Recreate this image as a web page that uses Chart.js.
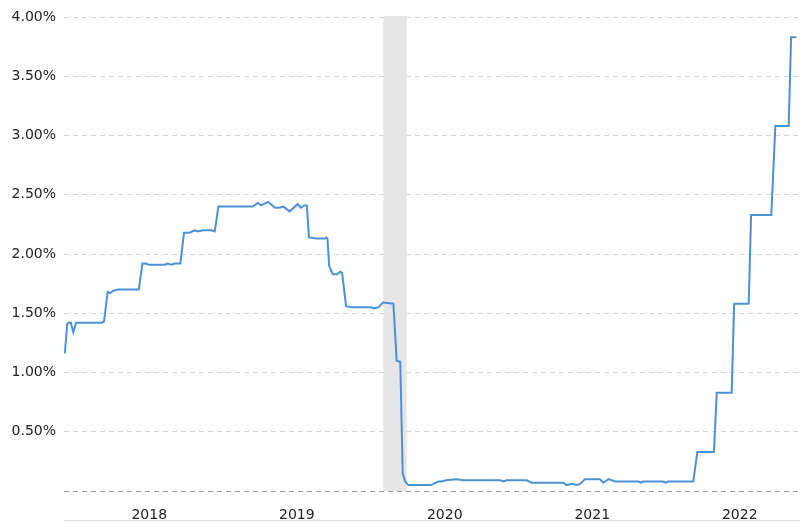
<!DOCTYPE html>
<html>
<head>
<meta charset="utf-8">
<title>Rate chart</title>
<script src="https://cdn.jsdelivr.net/npm/chart.js@4"></script>
<style>
  html, body { margin: 0; padding: 0; background: #ffffff; }
  #wrap { position: relative; width: 800px; height: 529px; }
</style>
</head>
<body>
<div id="wrap"><canvas id="grafico-tasa"></canvas></div>
<script>
// Dates and values
var fechas = [
    '2017-12-05', '2017-12-11', '2017-12-14', '2017-12-20', '2017-12-26', '2018-01-02',
    '2018-03-06', '2018-03-12', '2018-03-21', '2018-03-27', '2018-04-04', '2018-04-16',
    '2018-06-06', '2018-06-15', '2018-06-23', '2018-07-01', '2018-08-09', '2018-08-16',
    '2018-08-26', '2018-09-03', '2018-09-17', '2018-09-26', '2018-10-10', '2018-10-22',
    '2018-10-30', '2018-11-12', '2018-12-03', '2018-12-11', '2018-12-20', '2018-12-29',
    '2019-03-15', '2019-03-28', '2019-04-04', '2019-04-22', '2019-05-09', '2019-05-20',
    '2019-05-30', '2019-06-14', '2019-07-04', '2019-07-12', '2019-07-20', '2019-07-27',
    '2019-08-01', '2019-08-21', '2019-09-10', '2019-09-13', '2019-09-16', '2019-09-20',
    '2019-09-29', '2019-10-10', '2019-10-17', '2019-10-22', '2019-11-01', '2019-11-16',
    '2020-01-03', '2020-01-09', '2020-01-20', '2020-01-31', '2020-02-26', '2020-03-05',
    '2020-03-14', '2020-03-20', '2020-03-26', '2020-04-03', '2020-05-29', '2020-06-16',
    '2020-06-25', '2020-07-05', '2020-08-01', '2020-08-17', '2020-11-16', '2020-11-24',
    '2020-12-02', '2021-01-21', '2021-02-02', '2021-02-14', '2021-04-21', '2021-04-30',
    '2021-05-12', '2021-05-25', '2021-06-02', '2021-06-14', '2021-07-21', '2021-07-29',
    '2021-08-11', '2021-08-27', '2021-10-24', '2021-10-30', '2021-11-05', '2021-12-24',
    '2021-12-30', '2022-01-07', '2022-03-09', '2022-03-19', '2022-04-29', '2022-05-06',
    '2022-06-12', '2022-06-18', '2022-07-24', '2022-07-30', '2022-09-18', '2022-09-28',
    '2022-10-31', '2022-11-06', '2022-11-19'
];
var tasas = [
    1.16, 1.41, 1.42, 1.42, 1.34, 1.42,
    1.42, 1.43, 1.68, 1.67, 1.69, 1.70,
    1.70, 1.92, 1.92, 1.91, 1.91, 1.92,
    1.91, 1.92, 1.92, 2.18, 2.18, 2.20,
    2.19, 2.20, 2.20, 2.19, 2.40, 2.40,
    2.40, 2.43, 2.41, 2.44, 2.39, 2.39,
    2.40, 2.36, 2.42, 2.39, 2.41, 2.41,
    2.14, 2.13, 2.13, 2.14, 2.13, 1.90,
    1.83, 1.83, 1.85, 1.84, 1.56, 1.55,
    1.55, 1.54, 1.55, 1.59, 1.58, 1.10,
    1.09, 0.15, 0.08, 0.05, 0.05, 0.08,
    0.08, 0.09, 0.10, 0.09, 0.09, 0.08,
    0.09, 0.09, 0.07, 0.07, 0.07, 0.05,
    0.06, 0.05, 0.06, 0.10, 0.10, 0.07,
    0.10, 0.08, 0.08, 0.07, 0.08, 0.08,
    0.07, 0.08, 0.08, 0.33, 0.33, 0.83,
    0.83, 1.58, 1.58, 2.33, 2.33, 3.08,
    3.08, 3.83, 3.83
];
// Year labels sit in the middle of each year
var anios = [2018, 2019, 2020, 2021, 2022];
// Y axis ticks
var ticksY = [0, 0.5, 1, 1.5, 2, 2.5, 3, 3.5, 4];
// Shaded recession band
var recesion = ['2020-02-01', '2020-03-30'];
var inicioEje = '2017-12-03';
var finEje = '2022-11-28';

document.addEventListener('DOMContentLoaded', function() {
    var ctx = document.getElementById('grafico-tasa').getContext('2d');

    var puntos = fechas.map(function(f, i) {
        return { x: Date.parse(f), y: tasas[i] };
    });

    // Gray band behind the line
    var bandaRecesion = {
        id: 'bandaRecesion',
        beforeDatasetsDraw: function(chart) {
            var x = chart.scales.x;
            var area = chart.chartArea;
            var x1 = x.getPixelForValue(Date.parse(recesion[0]));
            var x2 = x.getPixelForValue(Date.parse(recesion[1]));
            var c = chart.ctx;
            c.save();
            c.fillStyle = '#e6e6e6';
            c.fillRect(x1, area.top - 1, x2 - x1, area.bottom - area.top + 1);
            c.restore();
        },
        afterDraw: function(chart) {
            // thin line under the year labels
            var area = chart.chartArea;
            var c = chart.ctx;
            c.save();
            c.strokeStyle = '#dddddd';
            c.lineWidth = 1;
            c.beginPath();
            c.moveTo(area.left, 520.5);
            c.lineTo(area.right, 520.5);
            c.stroke();
            c.restore();
        }
    };

    Chart.defaults.font.family = '"DejaVu Sans", Verdana, sans-serif';

    var grafico = new Chart(ctx, {
        type: 'line',
        data: {
            datasets: [{
                label: 'Tasa',
                data: puntos,
                borderColor: '#4b91d8',
                borderWidth: 2,
                pointRadius: 0,
                tension: 0,
                fill: false
            }]
        },
        options: {
            responsive: true,
            maintainAspectRatio: false,
            animation: false,
            layout: { padding: { top: 17, right: 0, left: 0, bottom: 0 } },
            plugins: {
                legend: { display: false },
                tooltip: { enabled: false }
            },
            scales: {
                x: {
                    type: 'linear',
                    min: Date.parse(inicioEje),
                    max: Date.parse(finEje),
                    afterBuildTicks: function(scale) {
                        scale.ticks = anios.map(function(a) {
                            return { value: Date.UTC(a, 6, 2) };
                        });
                    },
                    afterFit: function(scale) { scale.height = 38; },
                    grid: { display: false },
                    border: { display: false },
                    ticks: {
                        autoSkip: false,
                        maxRotation: 0,
                        padding: 8,
                        color: '#222222',
                        font: { size: 14 },
                        callback: function(v) { return new Date(v).getUTCFullYear(); }
                    }
                },
                y: {
                    min: 0,
                    max: 4,
                    afterBuildTicks: function(scale) {
                        scale.ticks = ticksY.map(function(v) { return { value: v }; });
                    },
                    afterFit: function(scale) { scale.width = 64; },
                    grid: {
                        drawTicks: false,
                        color: function(c) { return c.tick && c.tick.value === 0 ? '#999999' : '#d4d4d4'; }
                    },
                    border: { display: false, dash: [5, 4] },
                    ticks: {
                        padding: 8,
                        color: '#222222',
                        font: { size: 14 },
                        callback: function(v) { return v === 0 ? '' : v.toFixed(2) + '%'; }
                    }
                }
            }
        },
        plugins: [bandaRecesion]
    });
});
</script>
</body>
</html>
